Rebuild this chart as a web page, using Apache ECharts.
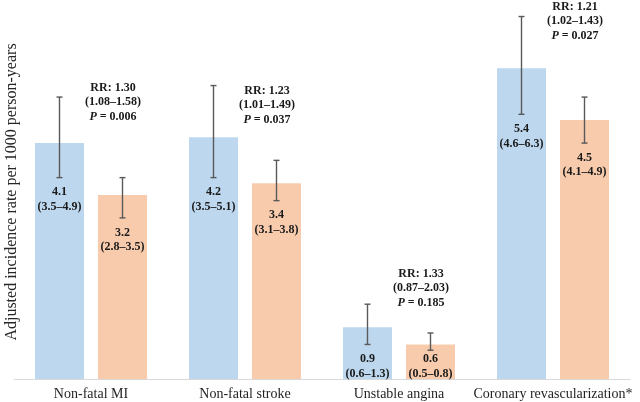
<!DOCTYPE html>
<html>
<head>
<meta charset="utf-8">
<script src="https://cdn.jsdelivr.net/npm/echarts@6/dist/echarts.min.js"></script>
<style>html,body{margin:0;padding:0;background:#fff;}#chart{width:640px;height:402px;}</style>
</head>
<body>
<div id="chart"></div>
<script>
// ---- data ----
const categories = ['Non-fatal MI', 'Non-fatal stroke', 'Unstable angina', 'Coronary revascularization*'];
const seriesAValues = [4.1, 4.2, 0.9, 5.4];
const seriesALow = [3.5, 3.5, 0.6, 4.6];
const seriesAHigh = [4.9, 5.1, 1.3, 6.3];
const seriesBValues = [3.2, 3.4, 0.6, 4.5];
const seriesBLow = [2.8, 3.1, 0.5, 4.1];
const seriesBHigh = [3.5, 3.8, 0.8, 4.9];
const rrValues = ['1.30', '1.23', '1.33', '1.21'];
const rrCI = ['1.08–1.58', '1.01–1.49', '0.87–2.03', '1.02–1.43'];
const pValues = ['0.006', '0.037', '0.185', '0.027'];
const yAxisTitle = 'Adjusted incidence rate per 1000 person-years';

// ---- layout (annotation anchors in axis units, not data) ----
const rrAnchor = [4.81, 4.76, 1.58, 6.22];

const FONT = '"Liberation Serif", "Times New Roman", serif';
const BAR_W = 49;
const BAR_OFF = 31.5;
const ERR_COLOR = '#595959';

function fmt(v) { return v.toFixed(1); }

function errRender(offset) {
  return function (params, api) {
    const i = api.value(0);
    const hi = api.coord([i, api.value(2)]);
    const lo = api.coord([i, api.value(1)]);
    const base = api.coord([i, 0]);
    const x = hi[0] + offset;
    const cap = 3;
    const st = { stroke: ERR_COLOR, lineWidth: 1.4 };
    const labelTop = Math.min(lo[1] + 7.5, base[1] - 27);
    return {
      type: 'group',
      children: [
        { type: 'line', shape: { x1: x, y1: hi[1], x2: x, y2: lo[1] }, style: st },
        { type: 'line', shape: { x1: x - cap, y1: hi[1], x2: x + cap, y2: hi[1] }, style: st },
        { type: 'line', shape: { x1: x - cap, y1: lo[1], x2: x + cap, y2: lo[1] }, style: st },
        {
          type: 'text', x: x, y: labelTop,
          style: {
            text: fmt(api.value(3)) + '\n(' + fmt(api.value(1)) + '–' + fmt(api.value(2)) + ')',
            fill: '#1a1a1a', font: 'bold 12px ' + FONT, align: 'center', verticalAlign: 'top', lineHeight: 14.5
          }
        }
      ]
    };
  };
}

const errA = categories.map((c, i) => [i, seriesALow[i], seriesAHigh[i], seriesAValues[i]]);
const errB = categories.map((c, i) => [i, seriesBLow[i], seriesBHigh[i], seriesBValues[i]]);
const rrData = categories.map((c, i) => [i, rrAnchor[i]]);

const chart = echarts.init(document.getElementById('chart'), null, { renderer: 'canvas' });
chart.setOption({
  animation: false,
  backgroundColor: '#ffffff',
  grid: { left: 14, right: 10, top: 5, bottom: 23, containLabel: false, outerBoundsMode: 'none' },
  xAxis: {
    type: 'category',
    data: categories,
    axisLine: { show: true, lineStyle: { color: '#d9d9d9', width: 1 } },
    axisTick: { show: false },
    axisLabel: { color: '#1f1f1f', fontFamily: FONT, fontSize: 14, margin: 8, interval: 0 }
  },
  yAxis: {
    type: 'value',
    min: 0, max: 6.5,
    axisLine: { show: false }, axisTick: { show: false },
    axisLabel: { show: false }, splitLine: { show: false },
    name: yAxisTitle,
    nameLocation: 'middle',
    nameGap: -6,
    nameRotate: 90,
    nameTextStyle: { color: '#262626', fontFamily: FONT, fontSize: 16 }
  },
  series: [
    { type: 'bar', data: seriesAValues, barWidth: BAR_W, barGap: '28.6%', itemStyle: { color: '#bdd7ee' } },
    { type: 'bar', data: seriesBValues, barWidth: BAR_W, itemStyle: { color: '#f8cbad' } },
    { type: 'custom', data: errA, renderItem: errRender(-BAR_OFF), z: 5 },
    { type: 'custom', data: errB, renderItem: errRender(BAR_OFF), z: 5 },
    {
      type: 'custom', data: rrData, z: 6,
      renderItem: function (params, api) {
        const i = api.value(0);
        const p = api.coord([i, api.value(1)]);
        return {
          type: 'text', x: p[0] + 22, y: p[1],
          style: {
            text: '{b|RR: ' + rrValues[i] + '}\n{b|(' + rrCI[i] + ')}\n{i|P}{b| = ' + pValues[i] + '}',
            align: 'center', verticalAlign: 'middle',
            rich: {
              b: { font: 'bold 12px ' + FONT, fill: '#1a1a1a', lineHeight: 14.5 },
              i: { font: 'italic bold 12px ' + FONT, fill: '#1a1a1a', lineHeight: 14.5 }
            }
          }
        };
      }
    }
  ]
});
</script>
</body>
</html>
